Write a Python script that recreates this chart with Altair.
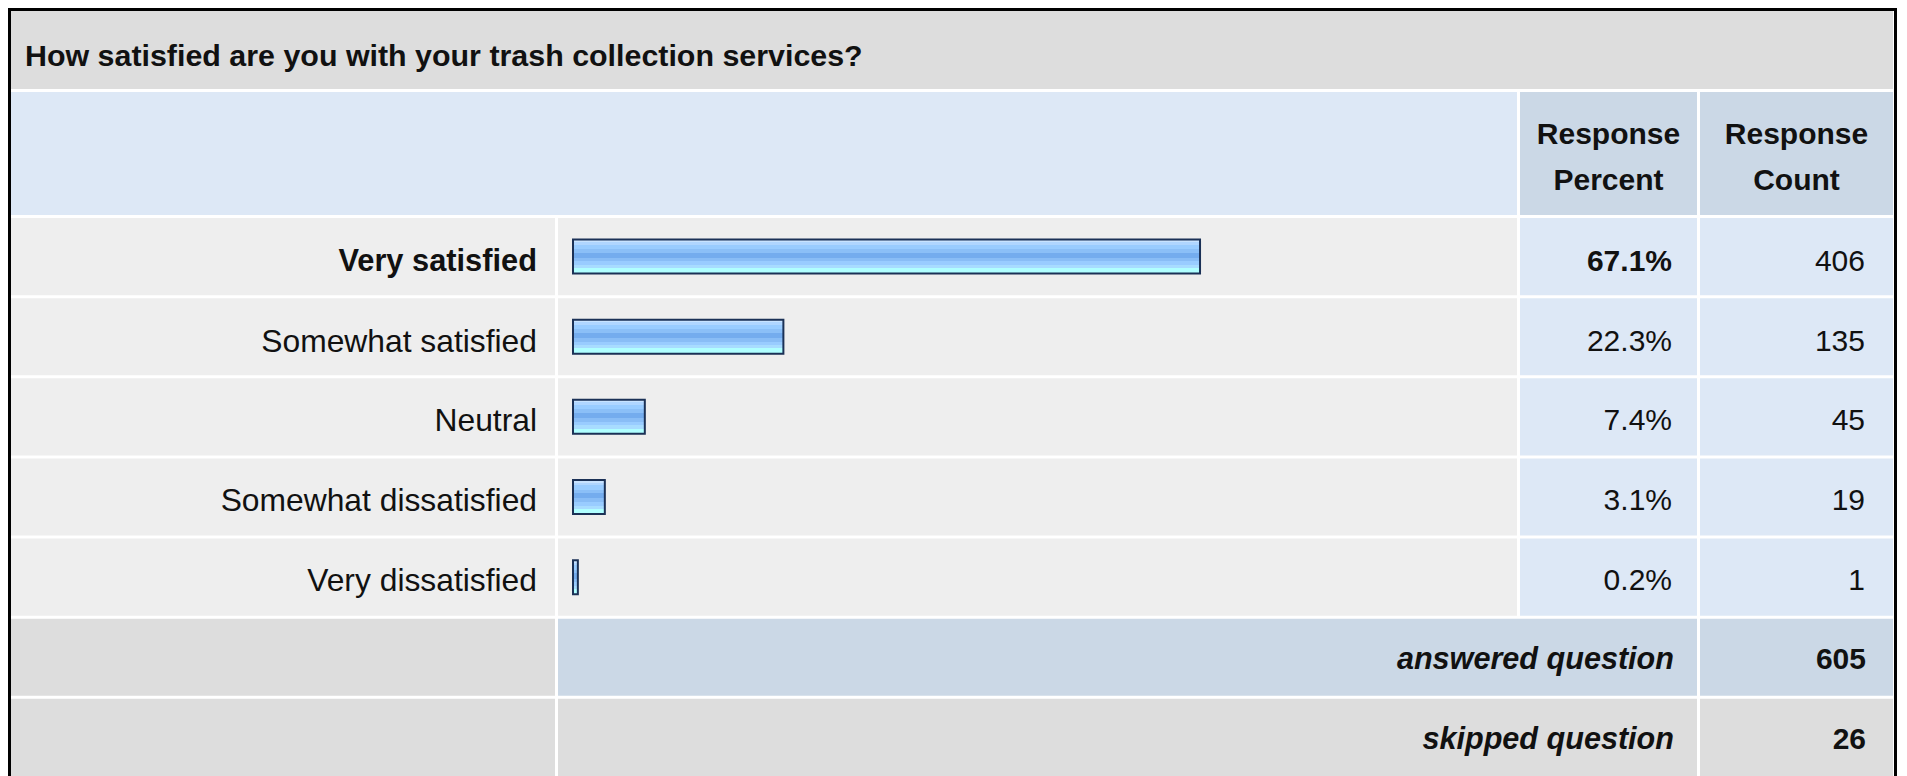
import altair as alt
import pandas as pd

# ---------------- data ----------------
QUESTION = "How satisfied are you with your trash collection services?"
categories = ["Very satisfied", "Somewhat satisfied", "Neutral",
              "Somewhat dissatisfied", "Very dissatisfied"]
percents = [67.1, 22.3, 7.4, 3.1, 0.2]
counts = [406, 135, 45, 19, 1]
col_header_pct = ["Response", "Percent"]
col_header_cnt = ["Response", "Count"]
summary_labels = ["answered question", "skipped question"]
summary_values = [605, 26]

# ---------------- layout / style ----------------
W, H = 1890, 768
FONT = "Liberation Sans, Arial, Helvetica, sans-serif"
FS = 30
TXT = "#111111"
GRAY = "#dddddd"
ROWBG = "#eeeeee"
LBLUE = "#dde8f6"
GBLUE = "#cbd8e6"
NAVY = "#1b3156"

COL_LABEL = (3, 547)
COL_BAR = (550, 1509)
COL_PCT = (1512, 1689)
COL_CNT = (1692, 1885)
BAR_RANGE = [565, 1495]

row_keys = categories + summary_labels
yband = alt.Scale(domain=row_keys, range=[210, H], paddingInner=0.0375, paddingOuter=0)

# ---------------- tables built from the lists ----------------
cells = []
for c in categories:
    cells += [(c, *COL_LABEL, ROWBG), (c, *COL_BAR, ROWBG),
              (c, *COL_PCT, LBLUE), (c, *COL_CNT, LBLUE)]
cells += [(summary_labels[0], *COL_LABEL, GRAY), (summary_labels[0], COL_BAR[0], COL_PCT[1], GBLUE),
          (summary_labels[0], *COL_CNT, GBLUE)]
cells += [(summary_labels[1], *COL_LABEL, GRAY), (summary_labels[1], COL_BAR[0], COL_PCT[1], GRAY),
          (summary_labels[1], *COL_CNT, GRAY)]
cells_df = pd.DataFrame(cells, columns=["row", "x0", "x1", "fill"])

head_df = pd.DataFrame([
    (3, 1885, 3, 81, GRAY),
    (3, COL_BAR[1], 84, 207, LBLUE),
    (*COL_PCT, 84, 207, GBLUE),
    (*COL_CNT, 84, 207, GBLUE),
], columns=["x0", "x1", "y0", "y1", "fill"])

pct_mid = (COL_PCT[0] + COL_PCT[1]) / 2
cnt_mid = (COL_CNT[0] + COL_CNT[1]) / 2
headtxt_df = pd.DataFrame({
    "text": col_header_pct + col_header_cnt,
    "x": [pct_mid, pct_mid, cnt_mid, cnt_mid],
    "y": [136, 182, 136, 182],
})

top = max(percents)
data_df = pd.DataFrame({
    "cat": categories,
    "pct": percents,
    "pct_label": [f"{p:.1f}%" for p in percents],
    "count": [str(c) for c in counts],
    "top": [p == top for p in percents],
})
sum_df = pd.DataFrame({"label": summary_labels, "value": [str(v) for v in summary_values]})
title_df = pd.DataFrame({"t": [QUESTION]})
one_df = pd.DataFrame({"k": [0]})

# ---------------- layers ----------------
bg_band = alt.Chart(cells_df).mark_rect().encode(
    y=alt.Y("row:N", scale=yband, axis=None),
    x=alt.X("x0:Q", scale=None), x2="x1:Q",
    fill=alt.Fill("fill:N", scale=None),
)
bg_head = alt.Chart(head_df).mark_rect().encode(
    x=alt.X("x0:Q", scale=None), x2="x1:Q",
    y=alt.Y("y0:Q", scale=None), y2="y1:Q",
    fill=alt.Fill("fill:N", scale=None),
)
border = alt.Chart(one_df).mark_rect(fill=None, stroke="#000000", strokeWidth=3).encode(
    x=alt.value(1.5), x2=alt.value(1887.5), y=alt.value(1.5), y2=alt.value(H + 20)
)
title = alt.Chart(title_df).mark_text(
    align="left", baseline="alphabetic", font=FONT, fontSize=30.4, fontWeight="bold", color=TXT
).encode(x=alt.value(17), y=alt.value(57.5), text="t:N")

head_txt = alt.Chart(headtxt_df).mark_text(
    align="center", baseline="alphabetic", font=FONT, fontSize=FS, fontWeight="bold", color=TXT
).encode(x=alt.X("x:Q", scale=None), y=alt.Y("y:Q", scale=None), text="text:N")

grad = alt.Gradient(
    gradient="linear", x1=0, x2=0, y1=0, y2=1,
    stops=[alt.GradientStop(offset=o, color=c) for o, c in [
        (0.0, "#c8e3ff"), (0.075, "#c8e3ff"),
        (0.075, "#b0d6ff"), (0.15, "#b0d6ff"),
        (0.15, "#99ccff"), (0.28, "#99ccff"),
        (0.28, "#8bbff7"), (0.385, "#8bbff7"),
        (0.385, "#74acee"), (0.54, "#74acee"),
        (0.54, "#89bdf6"), (0.645, "#89bdf6"),
        (0.645, "#99ccff"), (0.75, "#99ccff"),
        (0.75, "#a8dcff"), (0.845, "#a8dcff"),
        (0.845, "#b0ffff"), (1.0, "#b0ffff"),
    ]],
)
bars = alt.Chart(data_df).mark_bar(
    size=34, fill=grad, stroke=NAVY, strokeWidth=2, xOffset=3
).encode(
    y=alt.Y("cat:N", scale=yband, axis=None),
    x=alt.X("pct:Q", scale=alt.Scale(domain=[0, 100], range=BAR_RANGE), axis=None),
    x2=alt.datum(0),
)

def row_text(field, xpos, weight, filt=None, style="normal", df=data_df, yfield="cat", size=FS):
    ch = alt.Chart(df)
    if filt is not None:
        ch = ch.transform_filter(filt)
    return ch.mark_text(
        align="right", baseline="middle", dy=4, font=FONT, fontSize=size,
        fontWeight=weight, fontStyle=style, color=TXT
    ).encode(
        y=alt.Y(f"{yfield}:N", scale=yband, axis=None),
        x=alt.value(xpos),
        text=f"{field}:N",
    )

lbl_bold = row_text("cat", 529, "bold", alt.datum.top, size=30.8)
lbl_norm = row_text("cat", 529, "normal", ~alt.datum.top, size=31.8)
pct_bold = row_text("pct_label", 1664, "bold", alt.datum.top)
pct_norm = row_text("pct_label", 1664, "normal", ~alt.datum.top)
cnt_txt = row_text("count", 1857, "normal")
sum_lbl = row_text("label", 1666, "bold", style="italic", df=sum_df, yfield="label", size=30.6)
sum_val = row_text("value", 1858, "bold", df=sum_df, yfield="label")

chart = alt.layer(
    bg_head, bg_band, bars, title, head_txt,
    lbl_bold, lbl_norm, pct_bold, pct_norm, cnt_txt, sum_lbl, sum_val, border
).resolve_scale(x="independent", y="independent").properties(
    width=W, height=H, padding=0,
    autosize=alt.AutoSizeParams(type="none"),
    background="#ffffff",
).configure_view(stroke=None)

chart.save("out.html", embed_options={"renderer": "svg", "actions": False})
